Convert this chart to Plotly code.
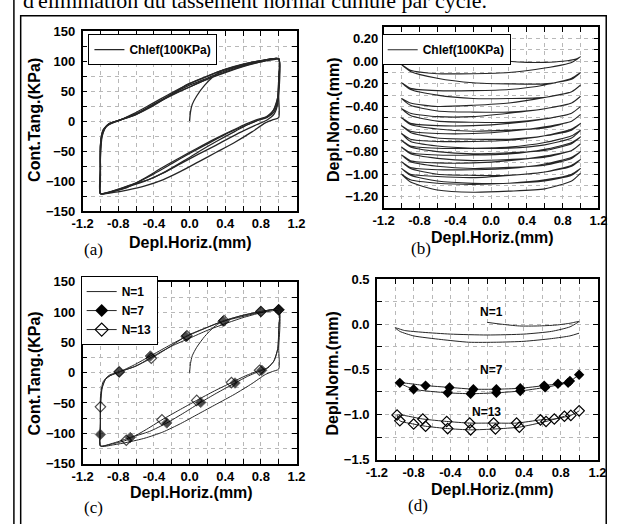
import plotly.graph_objects as go

W, H = 622, 524

# ---------------- (a)/(c): Cont.Tang.(KPa) vs Depl.Horiz.(mm) ----------------
# cycle N=1 (initial loading + unloading + reloading)
N1_X = [0.0, 0.01, 0.03, 0.08, 0.17, 0.27, 0.36, 0.6, 0.8, 1.0,
        1.0, 1.0, 0.93, 0.85, 0.7, 0.5, 0.3, 0.1, -0.1, -0.3, -0.5, -0.7, -0.85, -1.0,
        -1.0, -1.0, -0.97, -0.9, -0.8, -0.6, -0.4, -0.2, 0.0, 0.2, 0.4, 0.6, 0.8, 1.0]
N1_Y = [0, 15, 28, 42, 60, 75, 84, 93, 100, 104,
        40, 6, 2, -3, -18, -36, -52, -68, -84, -98, -108, -115, -119, -121,
        -80, -40, -15, -4, 1, 11, 28, 44, 57, 70, 81, 91, 99, 104]
# cycle N=3
N3_X = [1.0, 1.0, 0.99, 0.95, 0.87, 0.75, 0.55, 0.3, 0.1, -0.1, -0.3, -0.5, -0.7, -0.85, -1.0,
        -1.0, -1.0, -0.97, -0.9, -0.8, -0.6, -0.4, -0.2, 0.0, 0.2, 0.4, 0.6, 0.8, 1.0]
N3_Y = [104, 60, 30, 12, 2, -6, -20, -40, -55, -71, -87, -100, -110, -117, -121,
        -90, -40, -15, -4, 1, 12, 28, 43, 57, 70, 82, 92, 99, 104]
# cycle N=7
N7_X = [1.0, 1.0, 0.99, 0.95, 0.88, 0.81, 0.65, 0.51, 0.3, 0.125, -0.06, -0.255, -0.45, -0.665,
        -0.85, -1.0, -1.0, -1.0, -0.98, -0.93, -0.79, -0.62, -0.44, -0.24, -0.04, 0.17, 0.375,
        0.58, 0.8, 1.0]
N7_Y = [104, 70, 40, 20, 8, 4, -6, -17, -34, -49, -66, -83, -97, -107,
        -116, -121, -102, -60, -25, -8, 1, 13, 27.6, 44, 59.7, 73, 85,
        94, 101, 104]
N7_MK = [1, 0, 0, 0, 0, 1, 0, 1, 0, 1, 0, 1, 0, 1,
         0, 0, 1, 0, 0, 0, 1, 0, 1, 0, 1, 0, 1,
         0, 1, 1]
# cycle N=10
N10_X = [1.0, 1.0, 0.99, 0.95, 0.87, 0.78, 0.6, 0.4, 0.2, 0.0, -0.2, -0.4, -0.6, -0.8, -1.0,
         -1.0, -1.0, -0.98, -0.92, -0.8, -0.6, -0.4, -0.2, 0.0, 0.2, 0.4, 0.6, 0.8, 1.0]
N10_Y = [104, 65, 35, 16, 6, 2, -9, -22, -38, -54, -71, -88, -103, -114, -121,
         -80, -45, -20, -6, 1, 12, 28, 45, 60, 72, 84, 93, 100, 104]
# cycle N=13
N13_X = [1.0, 1.0, 0.99, 0.94, 0.86, 0.785, 0.63, 0.47, 0.28, 0.08, -0.12, -0.31, -0.5, -0.71,
         -0.88, -1.0, -1.0, -1.0, -0.99, -0.95, -0.88, -0.79, -0.62, -0.43, -0.23, -0.03, 0.18,
         0.386, 0.6, 0.8, 1.0]
N13_Y = [104, 70, 40, 18, 7, 4, -5, -16.3, -30, -45.7, -62, -77.8, -95, -111.5,
         -118, -121, -90, -56.4, -30, -12, -4, 1.5, 10, 23.8, 42, 61, 74,
         86, 95, 101, 104]
N13_MK = [1, 0, 0, 0, 0, 1, 0, 1, 0, 1, 0, 1, 0, 1,
          0, 0, 0, 1, 0, 0, 0, 1, 0, 1, 0, 1, 0,
          1, 0, 1, 0]

# ---------------- (b): Depl.Norm.(mm) vs Depl.Horiz.(mm), all cycles ----------------
B_INIT_X = [0.0, 0.2, 0.4, 0.6, 0.8, 0.95, 1.0]
B_INIT_Y = [0.02, 0.0, -0.01, -0.01, 0.0, 0.02, 0.04]
B_X_BACK = [1.0, 0.9, 0.6, 0.2, -0.2, -0.6, -0.9, -1.0]
B_X_FWD = [-1.0, -0.9, -0.6, -0.2, 0.2, 0.6, 0.9, 1.0]
C01_B = [0.04, -0.01, -0.06, -0.10, -0.11, -0.11, -0.08, -0.03]
C01_F = [-0.03, -0.09, -0.15, -0.19, -0.20, -0.20, -0.16, -0.10]
C02_B = [-0.10, -0.15, -0.21, -0.25, -0.26, -0.26, -0.24, -0.19]
C02_F = [-0.19, -0.25, -0.30, -0.33, -0.33, -0.32, -0.27, -0.21]
C03_B = [-0.21, -0.27, -0.32, -0.37, -0.39, -0.40, -0.37, -0.33]
C03_F = [-0.33, -0.39, -0.44, -0.45, -0.45, -0.42, -0.37, -0.31]
C04_B = [-0.31, -0.37, -0.42, -0.46, -0.49, -0.49, -0.46, -0.42]
C04_F = [-0.42, -0.48, -0.53, -0.54, -0.54, -0.51, -0.46, -0.40]
C05_B = [-0.40, -0.46, -0.51, -0.55, -0.57, -0.57, -0.55, -0.50]
C05_F = [-0.50, -0.56, -0.60, -0.62, -0.61, -0.59, -0.53, -0.47]
C06_B = [-0.47, -0.53, -0.58, -0.62, -0.64, -0.64, -0.62, -0.57]
C06_F = [-0.57, -0.63, -0.68, -0.69, -0.69, -0.66, -0.61, -0.55]
C07_B = [-0.55, -0.60, -0.66, -0.70, -0.71, -0.71, -0.69, -0.64]
C07_F = [-0.64, -0.71, -0.75, -0.77, -0.77, -0.74, -0.68, -0.61]
C08_B = [-0.61, -0.66, -0.72, -0.76, -0.77, -0.77, -0.75, -0.70]
C08_F = [-0.70, -0.76, -0.80, -0.82, -0.81, -0.79, -0.73, -0.67]
C09_B = [-0.67, -0.72, -0.78, -0.82, -0.83, -0.83, -0.81, -0.76]
C09_F = [-0.76, -0.82, -0.86, -0.88, -0.87, -0.85, -0.79, -0.73]
C10_B = [-0.73, -0.79, -0.84, -0.88, -0.90, -0.90, -0.88, -0.83]
C10_F = [-0.83, -0.89, -0.93, -0.95, -0.94, -0.92, -0.86, -0.80]
C11_B = [-0.80, -0.85, -0.91, -0.95, -0.96, -0.96, -0.94, -0.89]
C11_F = [-0.89, -0.95, -1.00, -1.01, -1.01, -0.98, -0.93, -0.87]
C12_B = [-0.87, -0.92, -0.98, -1.01, -1.03, -1.02, -1.00, -0.95]
C12_F = [-0.95, -1.01, -1.06, -1.08, -1.08, -1.06, -1.01, -0.95]
C13_B = [-0.95, -1.00, -1.05, -1.08, -1.09, -1.08, -1.05, -1.00]
C13_F = [-1.00, -1.07, -1.14, -1.16, -1.15, -1.13, -1.06, -0.99]
B_BACK = [C01_B, C02_B, C03_B, C04_B, C05_B, C06_B, C07_B, C08_B, C09_B, C10_B, C11_B, C12_B, C13_B]
B_FWD = [C01_F, C02_F, C03_F, C04_F, C05_F, C06_F, C07_F, C08_F, C09_F, C10_F, C11_F, C12_F, C13_F]

# ---------------- (d): Depl.Norm.(mm) for N=1, N=7, N=13 ----------------
D1_X = [0.0, 0.15, 0.35, 0.55, 0.75, 0.9, 1.0, 0.9, 0.7, 0.4, 0.0, -0.4, -0.7, -0.9, -1.0,
        -0.95, -0.8, -0.5, -0.2, 0.1, 0.4, 0.7, 0.9, 1.0]
D1_Y = [0.02, 0.0, -0.02, -0.02, -0.01, 0.01, 0.03, -0.03, -0.08, -0.11, -0.12, -0.11, -0.09, -0.07, -0.04,
        -0.08, -0.13, -0.17, -0.2, -0.2, -0.19, -0.16, -0.13, -0.1]
D7_X = [1.0, 0.9, 0.77, 0.62, 0.36, 0.1, -0.15, -0.41, -0.67, -0.95,
        -0.8, -0.43, -0.18, 0.1, 0.36, 0.63, 0.88]
D7_Y = [-0.56, -0.63, -0.66, -0.68, -0.71, -0.72, -0.72, -0.70, -0.68, -0.65,
        -0.72, -0.76, -0.77, -0.76, -0.74, -0.70, -0.65]
D13_X = [1.0, 0.91, 0.73, 0.58, 0.32, 0.07, -0.19, -0.44, -0.70, -0.98,
         -0.95, -0.80, -0.67, -0.43, -0.18, 0.09, 0.35, 0.64, 0.84]
D13_Y = [-0.96, -1.01, -1.05, -1.06, -1.095, -1.095, -1.095, -1.077, -1.05, -1.005,
         -1.07, -1.106, -1.13, -1.156, -1.17, -1.16, -1.14, -1.077, -1.02]

X_TICK_LABELS = ["-1.2", "-0.8", "-0.4", "0.0", "0.4", "0.8", "1.2"]

LINE = "#262626"
SANS = "Liberation Sans, Arial, sans-serif"
SERIF = "Liberation Serif, Times New Roman, serif"

fig = go.Figure()


def add(x, y, xa, ya, **kw):
    fig.add_trace(go.Scatter(x=x, y=y, xaxis=xa, yaxis=ya, **kw))


SPL = dict(shape="spline", smoothing=0.6)

# (a)
for i, (xs, ys) in enumerate([(N1_X, N1_Y), (N3_X, N3_Y), (N7_X, N7_Y), (N10_X, N10_Y), (N13_X, N13_Y)]):
    add(xs, ys, "x", "y", mode="lines", name="Chlef(100KPa)", legend="legend",
        showlegend=(i == 0), line=dict(color=LINE, width=1.3, **SPL))

# (b)
bx = list(B_INIT_X)
by = list(B_INIT_Y)
for yb, yf in zip(B_BACK, B_FWD):
    bx += B_X_BACK[1:] + B_X_FWD[1:]
    by += yb[1:] + yf[1:]
add(bx, by, "x2", "y2", mode="lines", name="Chlef(100KPa)", legend="legend2",
    line=dict(color=LINE, width=1.1, **SPL))

# (c)
add(N1_X, N1_Y, "x3", "y3", mode="lines", name="N=1", legend="legend3",
    line=dict(color=LINE, width=1, **SPL))
add(N7_X, N7_Y, "x3", "y3", mode="lines+markers", showlegend=False,
    line=dict(color=LINE, width=1, **SPL),
    marker=dict(symbol="diamond", color="black", size=[8 if m else 0 for m in N7_MK]))
add(N13_X, N13_Y, "x3", "y3", mode="lines+markers", showlegend=False,
    line=dict(color=LINE, width=1, **SPL),
    marker=dict(symbol="diamond-open", color="black", line=dict(width=1.2, color="black"),
                size=[8 if m else 0 for m in N13_MK]))
# legend entries for the marked series
add([None], [None], "x3", "y3", mode="lines+markers", name="N=7", legend="legend3",
    line=dict(color=LINE, width=1), marker=dict(symbol="diamond", color="black", size=10))
add([None], [None], "x3", "y3", mode="lines+markers", name="N=13", legend="legend3",
    line=dict(color=LINE, width=1),
    marker=dict(symbol="diamond-open", color="black", size=10, line=dict(width=1.2, color="black")))

# (d)
add(D1_X, D1_Y, "x4", "y4", mode="lines", showlegend=False,
    line=dict(color=LINE, width=1, **SPL))
add(D7_X, D7_Y, "x4", "y4", mode="lines+markers", showlegend=False,
    line=dict(color=LINE, width=1, **SPL),
    marker=dict(symbol="diamond", color="black", size=8))
add(D13_X, D13_Y, "x4", "y4", mode="lines+markers", showlegend=False,
    line=dict(color=LINE, width=1, **SPL),
    marker=dict(symbol="diamond-open", color="black", line=dict(width=1.2, color="black"), size=8))

GRID = "#b8b8b8"
TICKFONT = dict(family=SANS, size=13, color="black", weight="bold")
COMMON = dict(showline=True, linecolor="black", linewidth=1.5, mirror="allticks",
              ticks="inside", ticklen=5, tickcolor="black", tickwidth=1,
              showgrid=True, gridcolor=GRID, griddash="4px,4px", gridwidth=1,
              zeroline=False, tickfont=TICKFONT,
              minor=dict(ticks="inside", ticklen=5, tickcolor="black",
                         showgrid=True, gridcolor=GRID, griddash="4px,4px"))


def xdom(a, b):
    return [a / W, b / W]


def ydom(top, bot):
    return [1 - bot / H, 1 - top / H]


def xaxis(dom, anchor):
    d = dict(COMMON)
    d.update(domain=xdom(*dom), anchor=anchor, range=[-1.2, 1.2],
             tickvals=[float(t) for t in X_TICK_LABELS], ticktext=X_TICK_LABELS)
    d["minor"] = dict(COMMON["minor"], dtick=0.2, tick0=0)
    return d


def yaxis(dom, anchor, rng, dtick, fmt, minor, standoff=3):
    d = dict(COMMON)
    d.update(domain=ydom(*dom), anchor=anchor, range=rng, dtick=dtick, tick0=0, tickformat=fmt,
             ticklabelstandoff=standoff)
    d["minor"] = dict(COMMON["minor"], dtick=minor, tick0=0)
    return d


LEGFONT = dict(family=SANS, size=12, color="black", weight="bold")
LEG = dict(xanchor="left", yanchor="top", bordercolor="black", borderwidth=1,
           bgcolor="white", font=LEGFONT)

fig.update_layout(
    width=W, height=H, autosize=False,
    margin=dict(l=0, r=0, t=0, b=0),
    paper_bgcolor="white", plot_bgcolor="white",
    xaxis=xaxis((74, 295), "y"),
    yaxis=yaxis((25, 210), "x", [-150, 150], 50, "d", 25),
    xaxis2=xaxis((385, 607), "y2"),
    yaxis2=yaxis((21, 207), "x2", [-1.3, 0.3], 0.2, ".2f", 0.1, standoff=1),
    xaxis3=xaxis((74, 295), "y3"),
    yaxis3=yaxis((283, 470), "x3", [-150, 150], 50, "d", 25),
    xaxis4=xaxis((378, 606), "y4"),
    yaxis4=yaxis((280, 466), "x4", [-1.5, 0.5], 0.5, ".1f", 0.25),
    legend=dict(LEG, x=80 / W, y=1 - 28 / H),
    legend2=dict(LEG, x=383 / W, y=1 - 28 / H),
    legend3=dict(LEG, x=72 / W, y=1 - 277 / H, tracegroupgap=0),
)


def ann(text, px, py, size=16, angle=0, family=SANS, weight="bold", xanchor="center", yshift=0):
    fig.add_annotation(text=text, x=px / W, y=1 - py / H, xref="paper", yref="paper",
                       showarrow=False, textangle=angle, xanchor=xanchor, yanchor="middle",
                       yshift=yshift,
                       font=dict(family=family, size=size, color="black", weight=weight))


# axis titles
ann("Depl.Horiz.(mm)", 185, 242)
ann("Depl.Horiz.(mm)", 498, 237)
ann("Depl.Horiz.(mm)", 187, 500)
ann("Depl.Horiz.(mm)", 498, 497)
ann("Cont.Tang.(KPa)", 24, 116, angle=-90)
ann("Depl.Norm.(mm)", 333, 116, angle=-90)
ann("Cont.Tang.(KPa)", 24, 377, angle=-90)
ann("Depl.Norm.(mm)", 332, 377, angle=-90)
# panel letters
ann("(a)", 85, 250, size=17, family=SERIF, weight="normal")
ann("(b)", 424, 249, size=17, family=SERIF, weight="normal")
ann("(c)", 85, 515, size=17, family=SERIF, weight="normal")
ann("(d)", 421, 513, size=17, family=SERIF, weight="normal")
# cycle labels in (d)
ann("N=1", 496, 314, size=12)
ann("N=7", 496, 374, size=12)
ann("N=13", 491, 417, size=12)
# cut-off caption line at the top of the scanned page
ann("d'élimination du tassement normal cumulé par cycle.", 10, 0, size=22,
    family=SERIF, weight="normal", xanchor="left", yshift=7)

# page frame
fig.add_shape(type="line", xref="paper", yref="paper", x0=3 / W, x1=3 / W, y0=-0.02, y1=1.02,
              line=dict(color="black", width=1.5))
fig.add_shape(type="rect", xref="paper", yref="paper", x0=10 / W, x1=615 / W,
              y0=-0.05, y1=1 - 9 / H, line=dict(color="black", width=1.5))

fig.write_html("out.html", config={"displayModeBar": False},
               post_script="document.body.style.margin='0px';")
